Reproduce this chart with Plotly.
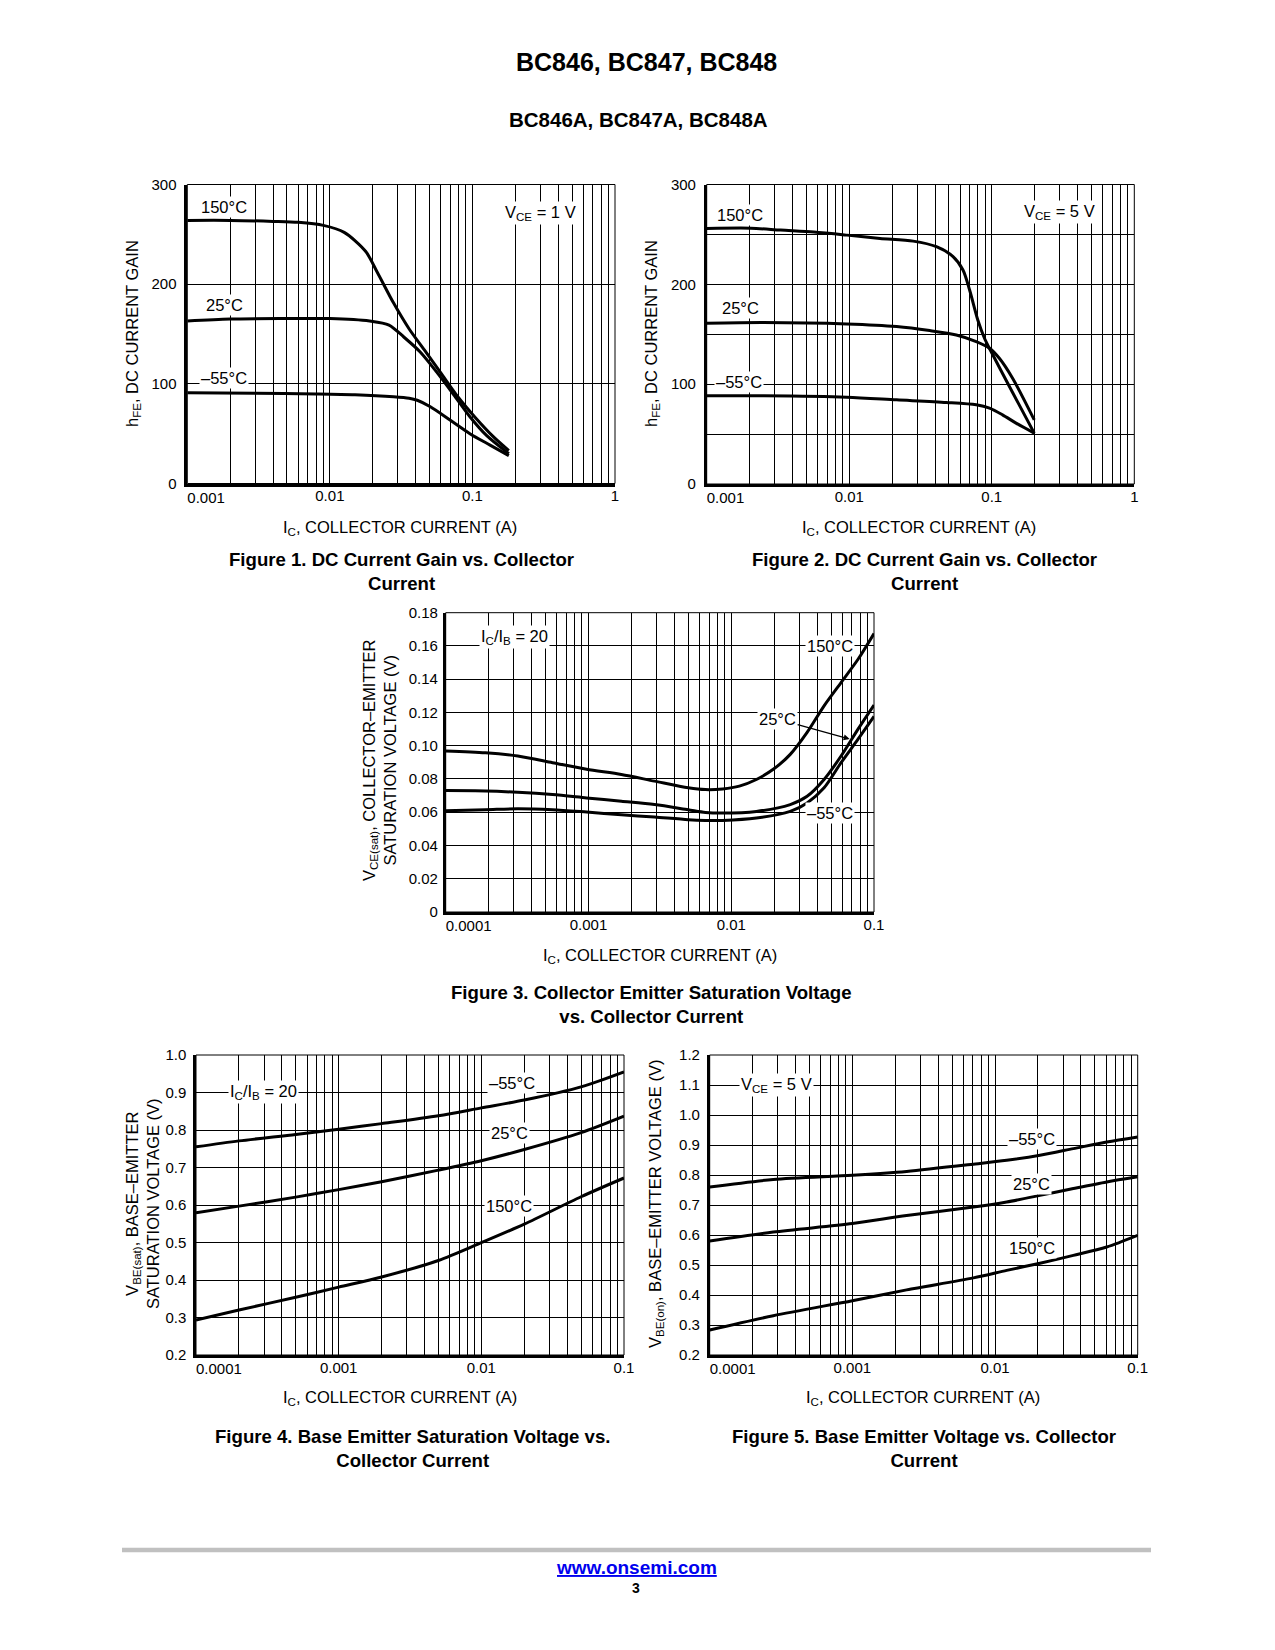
import math
import plotly.graph_objects as go

W, H = 1275, 1650          # browser window
BM = 8                     # default body margin of the page
FW, FH = W - 2 * BM, H - 2 * BM   # figure size so that the page fits the window exactly
FONT = "Liberation Sans, Arial, Helvetica, sans-serif"

# ---------------- DATA ----------------
# Figure 1: DC current gain vs collector current, VCE = 1 V
f1_ic_150 = [0.001, 0.002, 0.004, 0.006, 0.009, 0.0126, 0.0178, 0.0215, 0.028, 0.036, 0.046, 0.060, 0.080, 0.105, 0.14, 0.18]
f1_h_150 = [264, 264, 263, 262, 259, 252, 233, 212, 181, 155, 134, 111, 86, 66, 47, 33]
f1_ic_25 = [0.001, 0.002, 0.005, 0.01, 0.019, 0.026, 0.033, 0.043, 0.056, 0.074, 0.096, 0.126, 0.18]
f1_h_25 = [163, 165, 165.5, 165.5, 163, 159, 147, 132, 112, 89, 67, 48, 30]
f1_ic_m55 = [0.001, 0.003, 0.008, 0.015, 0.028, 0.036, 0.041, 0.0507, 0.070, 0.096, 0.133, 0.18]
f1_h_m55 = [91, 90.5, 89.8, 89, 87, 85.5, 83.5, 77, 63.5, 50, 38.5, 28]

# Figure 2: DC current gain vs collector current, VCE = 5 V
f2_ic_150 = [0.001, 0.00204, 0.0033, 0.00564, 0.00964, 0.01645, 0.0281, 0.0409, 0.0535, 0.0628, 0.0699, 0.0798, 0.0889, 0.0989, 0.140, 0.1986]
f2_h_150 = [256, 256.3, 254.3, 252.3, 249.3, 246, 243.3, 237.7, 227.7, 214.3, 194.3, 164.3, 146, 132.7, 91.7, 51]
f2_ic_25 = [0.001, 0.0025, 0.0096, 0.0215, 0.0367, 0.0564, 0.0778, 0.0964, 0.113, 0.140, 0.1986]
f2_h_25 = [161, 161.7, 160.3, 157.7, 153.7, 149.3, 142.7, 136, 126, 106, 64.3]
f2_ic_m55 = [0.001, 0.0025, 0.0096, 0.0215, 0.048, 0.0778, 0.0964, 0.119, 0.148, 0.1986]
f2_h_m55 = [88.3, 88.3, 87, 84.3, 81.7, 79.3, 76, 69.3, 61, 51]

# Figure 3: VCE(sat) vs IC, IC/IB = 20
f3_ic_150 = [0.0001, 0.00019, 0.00032, 0.00056, 0.00097, 0.0017, 0.0029, 0.005, 0.0066, 0.0087, 0.0114, 0.015, 0.0197, 0.0259, 0.034, 0.0447, 0.0588, 0.0773, 0.1]
f3_v_150 = [0.0969, 0.0958, 0.0938, 0.0898, 0.0858, 0.0827, 0.0787, 0.0747, 0.0736, 0.074, 0.0757, 0.0797, 0.0858, 0.0948, 0.108, 0.124, 0.138, 0.152, 0.1675]
f3_ic_25 = [0.0001, 0.00019, 0.00032, 0.00056, 0.00097, 0.0017, 0.0029, 0.005, 0.0066, 0.0087, 0.015, 0.0259, 0.034, 0.0447, 0.0588, 0.0773, 0.1]
f3_v_25 = [0.073, 0.0728, 0.072, 0.0706, 0.0686, 0.0666, 0.0646, 0.0615, 0.0599, 0.0595, 0.0605, 0.0646, 0.0696, 0.0797, 0.0938, 0.110, 0.1245]
f3_ic_m55 = [0.0001, 0.00019, 0.00032, 0.00056, 0.00097, 0.0017, 0.0029, 0.005, 0.0066, 0.0087, 0.015, 0.0259, 0.034, 0.0447, 0.0588, 0.0773, 0.1]
f3_v_m55 = [0.0609, 0.0615, 0.0621, 0.0615, 0.0601, 0.0585, 0.0571, 0.0555, 0.0551, 0.0551, 0.0565, 0.0605, 0.0656, 0.0747, 0.0898, 0.1039, 0.1176]

# Figure 4: VBE(sat) vs IC, IC/IB = 20
f4_ic = [0.0001, 0.0002, 0.0005, 0.001, 0.002, 0.005, 0.01, 0.02, 0.05, 0.1]
f4_v_m55 = [0.755, 0.771, 0.788, 0.802, 0.817, 0.838, 0.859, 0.880, 0.915, 0.955]
f4_v_25 = [0.579, 0.597, 0.621, 0.641, 0.662, 0.693, 0.718, 0.748, 0.793, 0.837]
f4_v_150 = [0.2935, 0.320, 0.354, 0.381, 0.408, 0.452, 0.4995, 0.549, 0.622, 0.672]

# Figure 5: VBE(on) vs IC, VCE = 5 V
f5_ic = [0.0001, 0.000279, 0.001, 0.0024, 0.00705, 0.01207, 0.02066, 0.0354, 0.0606, 0.1]
f5_v_m55 = [0.760, 0.785, 0.799, 0.812, 0.836, 0.849, 0.866, 0.888, 0.910, 0.927]
f5_v_25 = [0.580, 0.610, 0.638, 0.665, 0.693, 0.710, 0.732, 0.755, 0.777, 0.794]
f5_v_150 = [0.2835, 0.331, 0.381, 0.417, 0.457, 0.482, 0.506, 0.532, 0.560, 0.599]

# tick labels
xt_1A = ["0.001", "0.01", "0.1", "1"]
xt_100mA = ["0.0001", "0.001", "0.01", "0.1"]
yt_hfe_vals = [0, 100, 200, 300]
yt_hfe_text = ["0", "100", "200", "300"]
yt_hfe_minor = [50, 150, 250]
yt_vce_vals = [0, 0.02, 0.04, 0.06, 0.08, 0.10, 0.12, 0.14, 0.16, 0.18]
yt_vce_text = ["0", "0.02", "0.04", "0.06", "0.08", "0.10", "0.12", "0.14", "0.16", "0.18"]
yt_vbe4_vals = [0.2, 0.3, 0.4, 0.5, 0.6, 0.7, 0.8, 0.9, 1.0]
yt_vbe4_text = ["0.2", "0.3", "0.4", "0.5", "0.6", "0.7", "0.8", "0.9", "1.0"]
yt_vbe5_vals = [0.2, 0.3, 0.4, 0.5, 0.6, 0.7, 0.8, 0.9, 1.0, 1.1, 1.2]
yt_vbe5_text = ["0.2", "0.3", "0.4", "0.5", "0.6", "0.7", "0.8", "0.9", "1.0", "1.1", "1.2"]


# ---------------- LAYOUT HELPERS ----------------
def px(x):
    return (x - BM) / FW


def py(y):
    return 1 - (y - BM) / FH


def log_minor(d0, d1):
    vals = []
    for d in range(d0, d1):
        for k in range(2, 10):
            vals.append(float(f"{k}e{d}"))
    return vals


panels = [
    dict(n=1, box=(187.3, 615.0, 184.5, 483.5), dec=(-3, 0), xlab=xt_1A, yr=(0, 300),
         yv=yt_hfe_vals, yt=yt_hfe_text, ym=[], ystand=5,
         series=[(f1_ic_150, f1_h_150), (f1_ic_25, f1_h_25), (f1_ic_m55, f1_h_m55)]),
    dict(n=2, box=(706.7, 1134.3, 184.5, 484.0), dec=(-3, 0), xlab=xt_1A, yr=(0, 300),
         yv=yt_hfe_vals, yt=yt_hfe_text, ym=yt_hfe_minor, ystand=5,
         series=[(f2_ic_150, f2_h_150), (f2_ic_25, f2_h_25), (f2_ic_m55, f2_h_m55)]),
    dict(n=3, box=(445.7, 874.0, 612.7, 912.0), dec=(-4, -1), xlab=xt_100mA, yr=(0, 0.18),
         yv=yt_vce_vals, yt=yt_vce_text, ym=[], ystand=2,
         series=[(f3_ic_150, f3_v_150), (f3_ic_25, f3_v_25), (f3_ic_m55, f3_v_m55)]),
    dict(n=4, box=(196.0, 624.0, 1055.0, 1355.0), dec=(-4, -1), xlab=xt_100mA, yr=(0.2, 1.0),
         yv=yt_vbe4_vals, yt=yt_vbe4_text, ym=[], ystand=4,
         series=[(f4_ic, f4_v_m55), (f4_ic, f4_v_25), (f4_ic, f4_v_150)]),
    dict(n=5, box=(709.7, 1137.7, 1055.0, 1355.0), dec=(-4, -1), xlab=xt_100mA, yr=(0.2, 1.2),
         yv=yt_vbe5_vals, yt=yt_vbe5_text, ym=[], ystand=4,
         series=[(f5_ic, f5_v_m55), (f5_ic, f5_v_25), (f5_ic, f5_v_150)]),
]

fig = go.Figure()
tickfont = dict(family=FONT, size=15, color="black")
gridstyle = dict(showgrid=True, gridcolor="black", gridwidth=1)
shapes = []
layout_axes = {}

for p in panels:
    n = p["n"]
    xs = "x" if n == 1 else f"x{n}"
    ys = "y" if n == 1 else f"y{n}"
    xk = "xaxis" if n == 1 else f"xaxis{n}"
    yk = "yaxis" if n == 1 else f"yaxis{n}"
    ov = n + 5
    x0, x1, y0, y1 = p["box"]
    d0, d1 = p["dec"]
    decades = [float(f"1e{d}") for d in range(d0, d1 + 1)]
    for sx, sy in p["series"]:
        fig.add_trace(go.Scatter(x=sx, y=sy, mode="lines", xaxis=xs, yaxis=ys,
                                 line=dict(color="black", width=3, shape="spline", smoothing=0.8),
                                 showlegend=False, hoverinfo="skip"))
    # empty helper trace carrying the overlay axis for the first (left-aligned) decade label
    fig.add_trace(go.Scatter(x=[], y=[], xaxis=f"x{ov}", yaxis=ys, showlegend=False, hoverinfo="skip"))
    layout_axes[xk] = dict(type="log", range=[d0, d1], domain=[px(x0), px(x1)], anchor=ys,
                           tickmode="array", tickvals=decades[1:], ticktext=p["xlab"][1:],
                           ticks="", ticklen=0, **gridstyle,
                           minor=dict(tickmode="array", tickvals=log_minor(d0, d1), ticks="", ticklen=0,
                                      showgrid=True, gridcolor="black", gridwidth=1),
                           showline=True, linecolor="black", linewidth=2.5,
                           zeroline=False, tickfont=tickfont, ticklabelstandoff=-3, fixedrange=True)
    layout_axes[f"xaxis{ov}"] = dict(type="log", range=[d0, d1], overlaying=xs, anchor=ys, side="bottom",
                                     tickmode="array", tickvals=decades[:1], ticktext=p["xlab"][:1],
                                     ticklabelposition="outside right", ticks="", ticklen=0, showgrid=False,
                                     showline=False, zeroline=False, tickfont=tickfont,
                                     ticklabelstandoff=3, fixedrange=True)
    yax = dict(range=list(p["yr"]), domain=[py(y1), py(y0)], anchor=xs,
               tickmode="array", tickvals=p["yv"], ticktext=p["yt"], ticks="", ticklen=0,
               **gridstyle, showline=True, linecolor="black", linewidth=2.5,
               zeroline=False, tickfont=tickfont, ticklabelstandoff=p["ystand"], fixedrange=True)
    if p["ym"]:
        yax["minor"] = dict(tickmode="array", tickvals=p["ym"], ticks="", ticklen=0, showgrid=True,
                            gridcolor="black", gridwidth=1)
    layout_axes[yk] = yax
    shapes.append(dict(type="rect", xref=f"{xs} domain", yref=f"{ys} domain", x0=0, x1=1, y0=0, y1=1,
                       line=dict(color="black", width=1), layer="above"))

# footer rule
shapes.append(dict(type="line", xref="paper", yref="paper", x0=px(122), x1=px(1151), y0=py(1550), y1=py(1550),
                   line=dict(color="#c0c0c0", width=4.5)))

ann = []


def text(t, x, y, size=16.5, bold=False, angle=0, bg=None, color="black"):
    d = dict(text=(f"<b>{t}</b>" if bold else t), x=px(x), y=py(y), xref="paper", yref="paper",
             xanchor="center", yanchor="middle", showarrow=False, textangle=angle,
             font=dict(family=FONT, size=size, color=color))
    if bg:
        d.update(bgcolor=bg, borderpad=1)
    ann.append(d)


# page headings
text("BC846, BC847, BC848", 646, 62, size=25, bold=True)
text("BC846A, BC847A, BC848A", 638, 120, size=20.5, bold=True)

# captions
CAP = 18.6
text("Figure 1. DC Current Gain vs. Collector<br>Current", 401, 571, size=CAP, bold=True)
text("Figure 2. DC Current Gain vs. Collector<br>Current", 924, 571, size=CAP, bold=True)
text("Figure 3. Collector Emitter Saturation Voltage<br>vs. Collector Current", 651, 1004, size=CAP, bold=True)
text("Figure 4. Base Emitter Saturation Voltage vs.<br>Collector Current", 412, 1448, size=CAP, bold=True)
text("Figure 5. Base Emitter Voltage vs. Collector<br>Current", 924, 1448, size=CAP, bold=True)

# axis titles
XT = "I<sub>C</sub>, COLLECTOR CURRENT (A)"
text(XT, 400, 528)
text(XT, 919, 528)
text(XT, 660, 956)
text(XT, 400, 1398)
text(XT, 923, 1398)
text("h<sub>FE</sub>, DC CURRENT GAIN", 133, 334, angle=-90)
text("h<sub>FE</sub>, DC CURRENT GAIN", 652, 334, angle=-90)
text("V<sub>CE(sat)</sub>, COLLECTOR–EMITTER<br>SATURATION VOLTAGE (V)", 380, 760, angle=-90)
text("V<sub>BE(sat)</sub>, BASE–EMITTER<br>SATURATION VOLTAGE (V)", 142, 1204, angle=-90)
text("V<sub>BE(on)</sub>, BASE–EMITTER VOLTAGE (V)", 656, 1204, angle=-90)

# in-plot labels
WB = "white"
text("150°C", 224, 207, bg=WB)
text("25°C", 224, 305, bg=WB)
text("–55°C", 224, 378, bg=WB)
text("V<sub>CE</sub> = 1 V", 540, 213, bg=WB)

text("150°C", 740, 215, bg=WB)
text("25°C", 740, 308, bg=WB)
text("–55°C", 739, 382, bg=WB)
text("V<sub>CE</sub> = 5 V", 1059, 212, bg=WB)

text("I<sub>C</sub>/I<sub>B</sub> = 20", 514, 637, bg=WB)
text("150°C", 830, 646, bg=WB)
text("–55°C", 830, 813, bg=WB)

text("I<sub>C</sub>/I<sub>B</sub> = 20", 264, 1092, bg=WB)
text("–55°C", 512, 1083, bg=WB)
text("25°C", 509, 1133, bg=WB)
text("150°C", 509, 1206, bg=WB)

text("V<sub>CE</sub> = 5 V", 777, 1085, bg=WB)
text("–55°C", 1032, 1139, bg=WB)
text("25°C", 1032, 1184, bg=WB)
text("150°C", 1032, 1248, bg=WB)

# 25°C label with arrow in figure 3
ann.append(dict(text="25°C", x=math.log10(0.0675), y=0.104, xref="x3", yref="y3",
                ax=-72, ay=-20, axref="pixel", ayref="pixel", showarrow=True,
                arrowhead=2, arrowsize=1, arrowwidth=1.2, arrowcolor="black",
                bgcolor="white", borderpad=1, font=dict(family=FONT, size=16.5, color="black")))

# footer
text("<u>www.onsemi.com</u>", 636, 1567, size=19, bold=True, color="#0000ee")
text("3", 636, 1588, size=14, bold=True)

fig.update_layout(width=FW, height=FH, margin=dict(l=0, r=0, t=0, b=0, autoexpand=False),
                  paper_bgcolor="white", plot_bgcolor="white", showlegend=False,
                  font=dict(family=FONT, color="black"),
                  shapes=shapes, annotations=ann, **layout_axes)

fig.write_html("out.html", config={"displayModeBar": False})
